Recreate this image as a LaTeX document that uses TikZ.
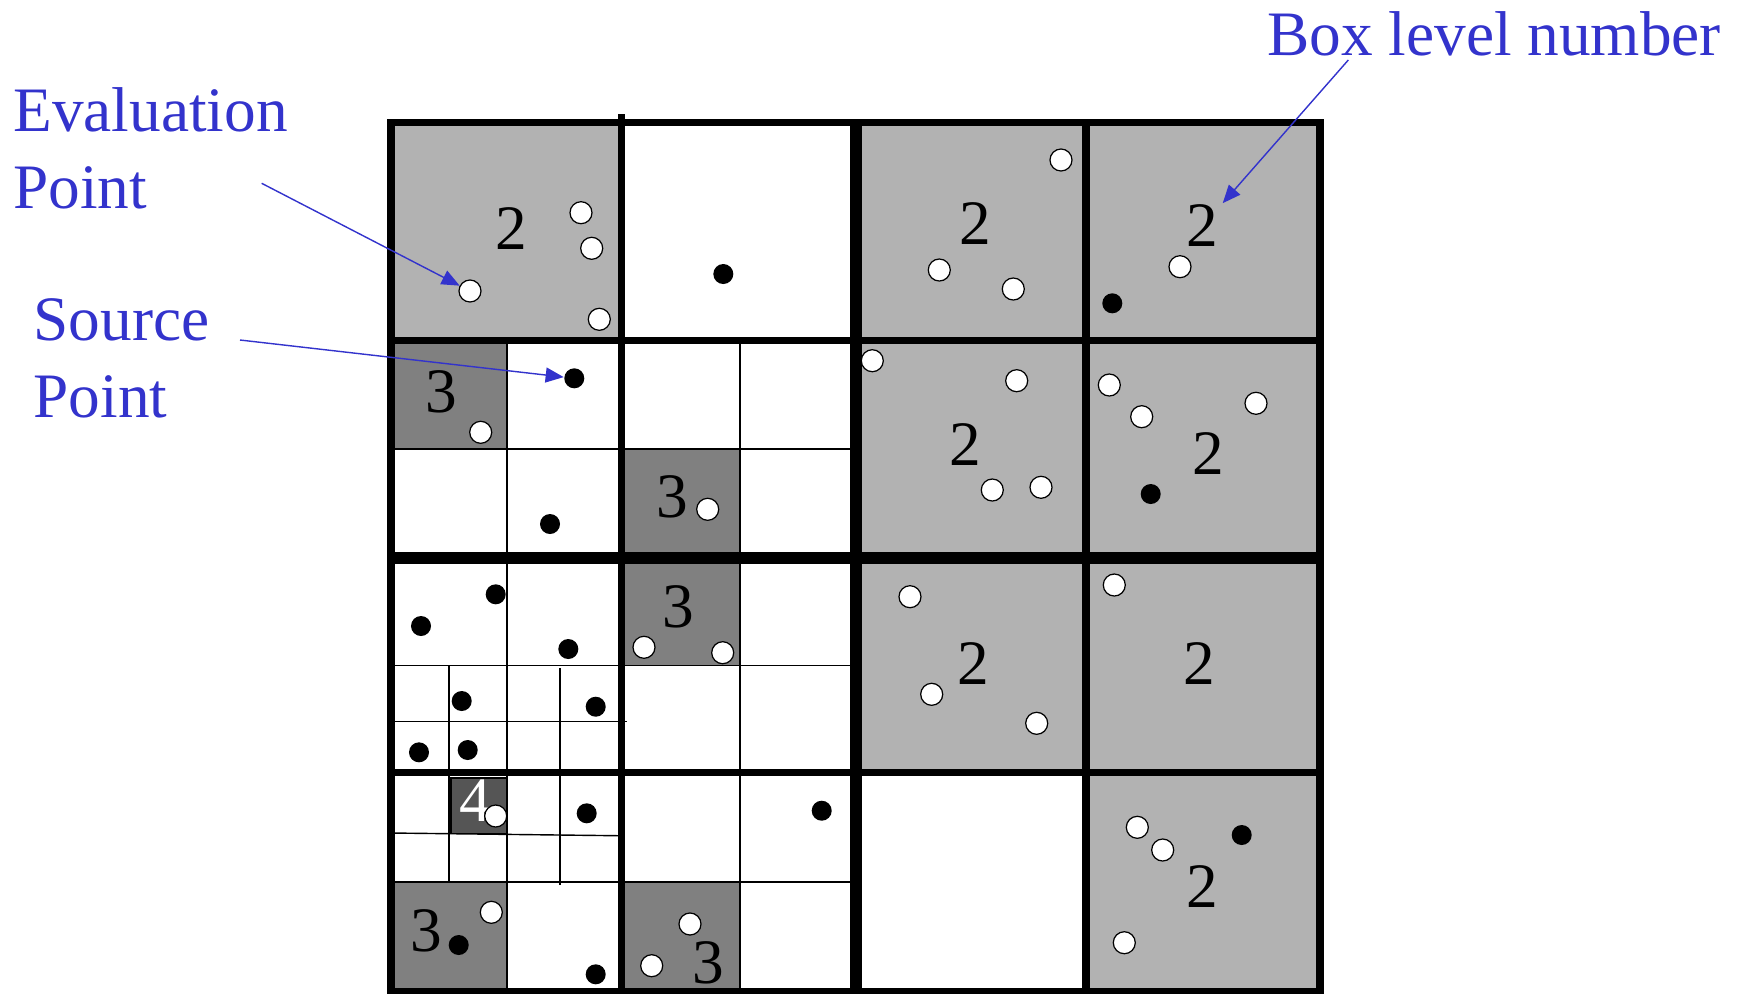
\documentclass[tikz,border=0pt]{standalone}
\usepackage{fontspec}
\setmainfont{Liberation Serif}
\usepackage{tikz}
\usetikzlibrary{arrows.meta}

\definecolor{labelblue}{RGB}{51,51,204}
\definecolor{levtwo}{RGB}{178,178,178}
\definecolor{levthree}{RGB}{128,128,128}
\definecolor{levfour}{RGB}{85,85,85}

\tikzset{
  evalpt/.style={circle, draw=black, line width=0.35pt, fill=white, inner sep=0pt, minimum size=0.22cm},
  srcpt/.style={circle, fill=black, inner sep=0pt, minimum size=0.2cm},
  lvlnum/.style={inner sep=1pt, font=\fontsize{18}{18}\selectfont},
  callout/.style={text=labelblue, align=left, inner sep=0pt, font=\fontsize{18}{21.8}\selectfont},
  pointer/.style={draw=labelblue, line width=0.4pt, -{Triangle[length=0.18cm, width=0.15cm]}},
  thinline/.style={line width=0.4pt},
  boxline/.style={line width=2pt},
  midline/.style={line width=3.4pt}
}

\begin{document}
\begin{tikzpicture}[x=0.01cm, y=-0.01cm]
  \useasboundingbox (0,0) rectangle (1745,993);

  % Level 2 boxes
  \fill[levtwo] (391,122.5) rectangle (621.7,340.7);
  \fill[levtwo] (856,122.5) rectangle (1320,772.7);
  \fill[levtwo] (1086,772.7) rectangle (1320,991.5);
  % Level 3 boxes
  \fill[levthree] (391,340.7) rectangle (507,449);
  \fill[levthree] (621.7,449) rectangle (740,665.4);
  \fill[levthree] (391,882) rectangle (507,991.5);
  \fill[levthree] (621.7,882) rectangle (740,991.5);
  % Level 4 box
  \draw[thinline, fill=levfour] (451,778) rectangle (507,833.5);

  % Fine subdivisions
  \draw[thinline] (507,340.7) -- (507,991.5);
  \draw[thinline] (740,340.7) -- (740,991.5);
  \draw[thinline] (391,449) -- (856,449);
  \draw[thinline] (391,665.4) -- (856,665.4);
  \draw[thinline] (391,882) -- (856,882);
  \draw[thinline] (449,665.4) -- (449,882);
  \draw[thinline] (560,668) -- (560,885);
  \draw[thinline] (391,721.7) -- (626.7,721.7);
  \draw[thinline] (391,833) -- (618,835.7);

  % Coarse grid
  \draw[boxline] (391,122.5) rectangle (1320,991.5);
  \draw[boxline] (621.7,114) -- (621.7,991.5);
  \draw[boxline] (1086,122.5) -- (1086,991.5);
  \draw[boxline] (391,340.7) -- (1320,340.7);
  \draw[boxline] (391,772.7) -- (1320,772.7);
  \draw[midline] (856,122.5) -- (856,991.5);
  \draw[midline] (391,558) -- (1320,558);

  % Box level numbers
  \foreach \x/\y [count=\k] in {511.7/228.3, 975.7/223.3, 965/445, 1208.3/454,
      973.3/664, 1199.3/664, 1202.7/886.7}
    \node[lvlnum] (two\k) at (\x,\y) {2};
  \node[lvlnum] (twomark) at (1202.7,226) {2};
  \foreach \x/\y [count=\k] in {441.7/391.7, 672.7/496.7, 678.3/606.7,
      426.7/931, 708.3/962.5}
    \node[lvlnum] (three\k) at (\x,\y) {3};
  \node[lvlnum, text=white] (four) at (475.5,801) {4};

  % Evaluation points
  \foreach \x/\y [count=\k] in {581/212.7, 591.7/248.3, 599.3/319.3, 480.7/432.3,
      707.7/509.3, 644/647.3, 722.7/652.7, 491.3/912.3, 495.7/816, 690/924,
      651.7/965.7, 1061/160, 939.3/270, 1013.3/289, 1180/266.7, 872.3/360.7,
      1016.7/380.7, 992.3/490, 1041/487.3, 1109.3/385, 1141.7/416.7, 1256/403.3,
      910/596.7, 931.7/694.3, 1036.7/723.3, 1114.3/585, 1137.3/827.3,
      1162.7/850, 1124.3/942.7}
    \node[evalpt] (ev\k) at (\x,\y) {};
  \node[evalpt] (evmark) at (470,291) {};

  % Source points
  \foreach \x/\y [count=\k] in {723.3/274, 550/524, 495.7/594.3, 421/626,
      568.3/649, 461.7/701, 595.7/706.7, 419/752.3, 467.7/750, 586.7/813.3,
      458.7/945, 595.7/974.3, 821.7/810.7, 1112.3/303.3, 1150.7/494, 1241.7/835}
    \node[srcpt] (src\k) at (\x,\y) {};
  \node[srcpt] (srcmark) at (574.3,378.3) {};

  % Callouts
  \node[callout, anchor=base west] (evallbl) at (12.7,208.3) {Evaluation\\Point};
  \node[callout, anchor=base west] (srclbl) at (33,417.3) {Source\\Point};
  \node[callout, anchor=base west] (boxlbl) at (1266.7,55) {Box level number};
  \coordinate (evaltail) at (261.7,183.3);
  \coordinate (srctail) at (240,340);
  \coordinate (boxtail) at (1348.3,60);
  \draw[pointer] (evaltail) -- (evmark);
  \draw[pointer] (srctail) -- (srcmark);
  \draw[pointer] (boxtail) -- (twomark);
\end{tikzpicture}
\end{document}
